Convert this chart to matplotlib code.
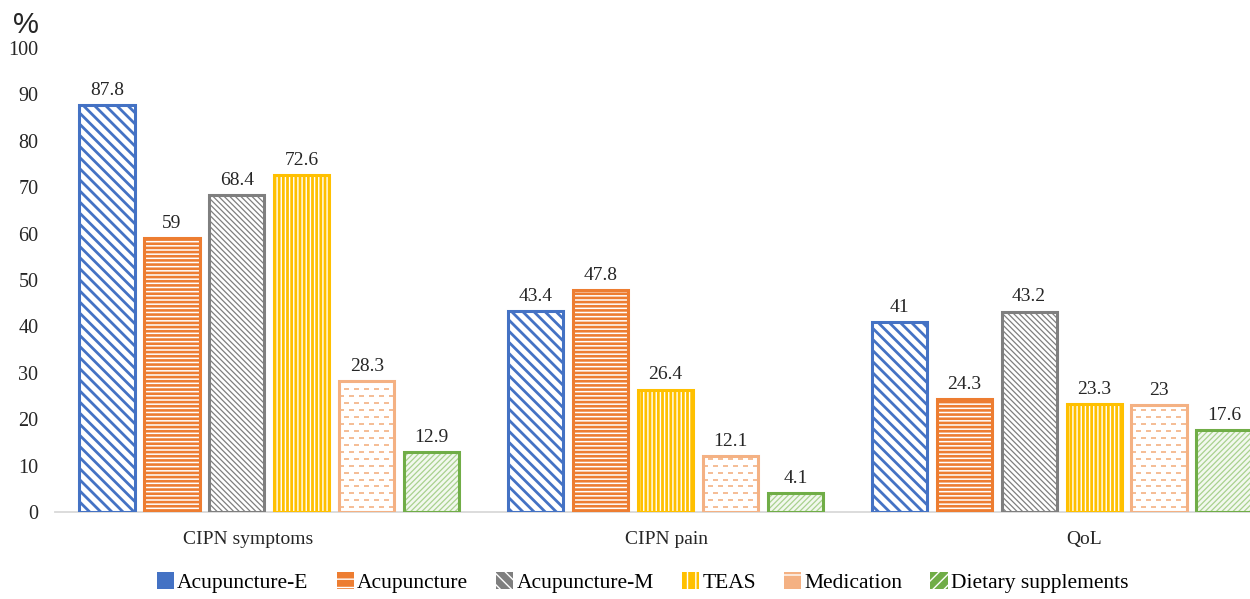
import numpy as np
import matplotlib
matplotlib.use('Agg')
import matplotlib.pyplot as plt
from matplotlib.patches import Patch

plt.rcParams['font.family'] = ['Liberation Serif', 'DejaVu Serif']

# outcome categories and the share (%) reported for each intervention
categories = ['CIPN symptoms', 'CIPN pain', 'QoL']
series = ['Acupuncture-E', 'Acupuncture', 'Acupuncture-M', 'TEAS',
          'Medication', 'Dietary supplements']
acupuncture_e = [87.8, 43.4, 41]
acupuncture = [59, 47.8, 24.3]
acupuncture_m = [68.4, None, 43.2]
teas = [72.6, 26.4, 23.3]
medication = [28.3, 12.1, 23]
dietary = [12.9, 4.1, 17.6]
values = [acupuncture_e, acupuncture, acupuncture_m, teas, medication, dietary]

yticks = np.arange(0, 101, 10)

# border colour, background, hatch colour, hatch pattern, hatch width
styles = {
    'Acupuncture-E': ('#4472C4', 'white', '#4472C4', '\\\\\\', 2.0),
    'Acupuncture': ('#ED7D31', 'white', '#ED7D31', '----', 1.9),
    'Acupuncture-M': ('#7F7F7F', 'white', '#7F7F7F', '\\\\\\\\\\\\', 0.9),
    'TEAS': ('#FFC000', '#FFC000', 'white', '||||', 1.0),
    'Medication': ('#F4B183', 'white', None, None, 0),
    'Dietary supplements': ('#70AD47', '#F2F8EE', '#A9D18E', '//////', 0.9),
}
legend_hatch = {
    'Acupuncture-E': None, 'Acupuncture': '--', 'Acupuncture-M': '\\\\\\',
    'TEAS': '||', 'Medication': '-', 'Dietary supplements': '///',
}

width = 0.85
group_gap = 1.6
tick_pos = [2.17, 8.61, 15.05]

# bars sit side by side inside a group; missing entries close up the group
xs = {s: [] for s in series}
hs = {s: [] for s in series}
start = 0.0
for g in range(len(categories)):
    k = 0
    for s, v in zip(series, values):
        if v[g] is None:
            continue
        xs[s].append(start + k)
        hs[s].append(v[g])
        k += 1
    start += k - 1 + group_gap

fig = plt.figure(figsize=(12.5, 5.99), dpi=100)
ax = fig.add_axes([0.044, 0.1452, 0.956, 0.7748])

for s in series:
    edge, bg, hcol, hatch, hlw = styles[s]
    x = np.array(xs[s])
    h = np.array(hs[s])
    with plt.rc_context({'hatch.linewidth': hlw if hlw else 1.0}):
        fill = ax.bar(x, h, width=width, color=bg,
                      edgecolor=hcol if hcol else bg, linewidth=0,
                      hatch=hatch, zorder=2)
    for p in fill:
        if hlw and hasattr(p, 'set_hatch_linewidth'):
            p.set_hatch_linewidth(hlw)
    border = ax.bar(x, h, width=width, color='none', edgecolor=edge,
                    linewidth=2.2, zorder=3)
    if s == 'Medication':
        # staggered short dashes inside the medication bars
        for p, xi, hi in zip(border, x, h):
            for j, yy in enumerate(np.arange(1.0, hi - 0.5, 1.5)):
                ls = (0, (3, 3)) if j % 2 == 0 else (3, (3, 3))
                ln = ax.hlines(yy, xi - width / 2, xi + width / 2,
                               colors=edge, linewidth=1.2, linestyles=[ls],
                               zorder=2.5)
                ln.set_clip_path(p)
    for xi, hi in zip(x, h):
        ax.text(xi, hi + 1.3, f'{hi:g}', ha='center', va='bottom',
                fontsize=14, color='#262626')

ax.set_xlim(-0.8, 17.6)
ax.set_ylim(0, 100)
ax.set_yticks(yticks)
ax.set_yticklabels([str(t) for t in yticks], fontsize=14.5)
ax.set_xticks(tick_pos)
ax.set_xticklabels(categories, fontsize=14)
ax.tick_params(axis='both', length=0, colors='#262626')
ax.tick_params(axis='y', pad=12)
ax.tick_params(axis='x', pad=14)
for side in ['top', 'right', 'left']:
    ax.spines[side].set_visible(False)
ax.spines['bottom'].set_color('#D9D9D9')
ax.spines['bottom'].set_linewidth(1.3)

fig.text(0.021, 0.958, '%', fontsize=21, family='Liberation Sans',
         ha='center', va='center', color='#262626')

handles = []
for s in series:
    edge = styles[s][0]
    handles.append(Patch(facecolor=edge, edgecolor='white', linewidth=0,
                         hatch=legend_hatch[s]))
fig.legend(handles, series, loc='center', bbox_to_anchor=(0.514, 0.027),
           ncol=6, frameon=False, fontsize=15.5, handlelength=0.8,
           handleheight=0.8, handletextpad=0.15, columnspacing=1.3)

fig.savefig('out.png', dpi=100)
